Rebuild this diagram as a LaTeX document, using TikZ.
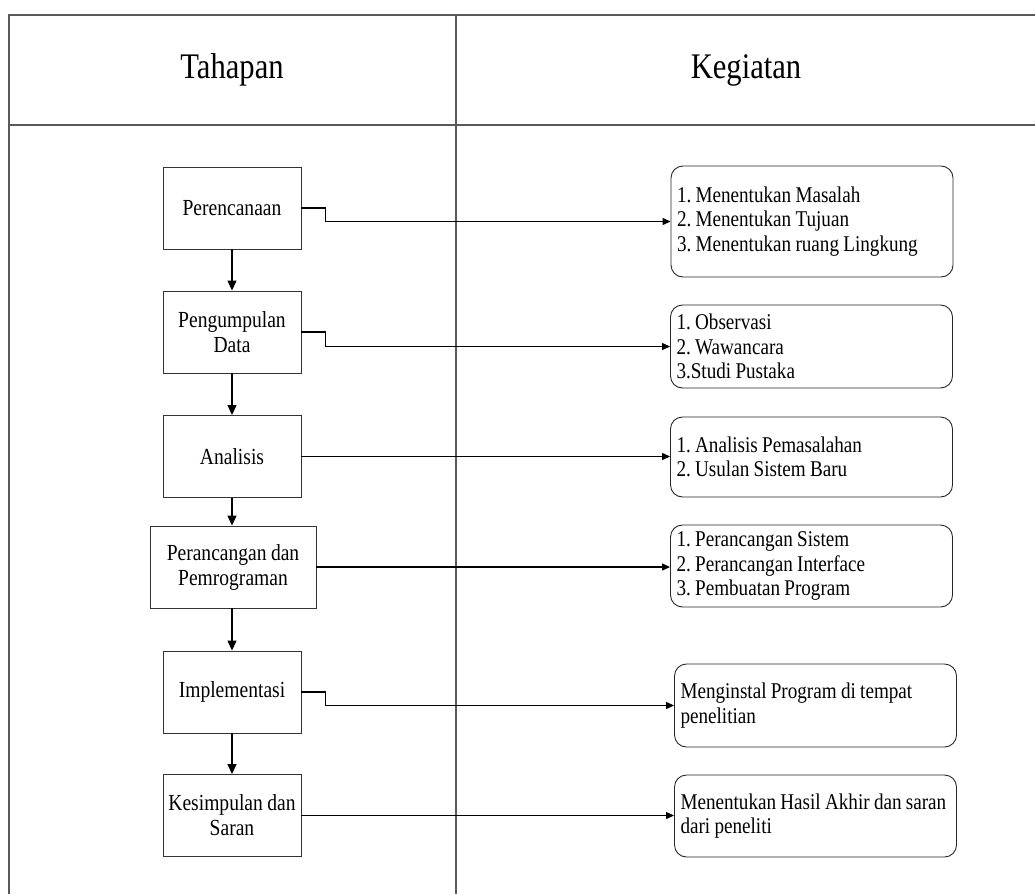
\documentclass[tikz,border=0pt]{standalone}
\usepackage{fontspec}
\setmainfont{Liberation Serif}[FakeStretch=0.85, WordSpace=0.9]
\usetikzlibrary{arrows.meta}
\tikzset{
  frameline/.style={draw=black!65, line width=1.4pt},
  stage/.style={draw=black!80, line width=0.9pt, fill=white, minimum height=82pt, minimum width=138pt, align=center, inner sep=3pt, font=\fontsize{23}{25}\selectfont\frenchspacing},
  activity/.style={draw=black!85, line width=0.9pt, rounded corners=12pt, fill=white, minimum height=83pt, text width=270pt, inner sep=6pt, align=left, font=\fontsize{22.5}{24.5}\selectfont\frenchspacing, execute at begin node={\spaceskip=0pt\xspaceskip=0pt}},
  title/.style={font=\fontsize{36}{38}\selectfont},
  flow/.style={draw=black, line width=1.2pt, -{Triangle[length=10pt,width=9pt]}},
  link/.style={draw=black, line width=1.2pt, -{Triangle[length=8pt,width=7pt]}},
}
\begin{document}
\begin{tikzpicture}[x=1pt,y=-1pt]
\useasboundingbox (0,0) rectangle (1035,894);
% frame
\coordinate (tl) at (9,15);
\coordinate (tr) at (1035,15);
\coordinate (bl) at (9,894);
\coordinate (hl) at (9,125);
\coordinate (hr) at (1035,125);
\coordinate (mt) at (456,15);
\coordinate (mb) at (456,894);
\draw[frameline] (bl) -- (tl) -- (tr);
\draw[frameline] (hl) -- (hr);
\draw[frameline] (mt) -- (mb);
\node[title] (t1) at (232,70) {Tahapan};
\node[title] (t2) at (746,70) {Kegiatan};
% stages
\node[stage] (s1) at (232,208) {Perencanaan};
\node[stage] (s2) at (232,332) {Pengumpulan\\Data};
\node[stage] (s3) at (232,456.5) {Analisis};
\node[stage, minimum width=166pt] (s4) at (233,567) {Perancangan dan\\Pemrograman};
\node[stage] (s5) at (232,692) {Implementasi};
\node[stage] (s6) at (232,815.5) {Kesimpulan dan\\Saran};
% activities
\node[activity, minimum height=111pt] (a1) at (812,221.5) {1. Menentukan Masalah\\2. Menentukan Tujuan\\3. Menentukan ruang Lingkung};
\node[activity] (a2) at (811.5,346.5) {1. Observasi\\2. Wawancara\\3.Studi Pustaka};
\node[activity, minimum height=80pt] (a3) at (811.5,457) {1. Analisis Pemasalahan\\2. Usulan Sistem Baru};
\node[activity, minimum height=82pt] (a4) at (811.5,566) {1. Perancangan Sistem\\2. Perancangan Interface\\3. Pembuatan Program};
\node[activity] (a5) at (815.5,705.5) {Menginstal Program di tempat\\penelitian};
\node[activity, minimum height=82pt] (a6) at (815.5,816) {Menentukan Hasil Akhir dan saran\\dari peneliti};
% vertical flow
\draw[flow] (s1) -- (s2);
\draw[flow] (s2) -- (s3);
\draw[flow] (s3.south) -- (s3.south |- s4.north);
\draw[flow] (s4.south -| s5.north) -- (s5.north);
\draw[flow] (s5) -- (s6);
% links
\draw[link] (s1.east) -- ++(24,0) |- (a1.west);
\draw[link] (s2.east) -- ++(24,0) |- (a2.west);
\draw[link] (s3.east) -- (s3.east -| a3.west);
\draw[link] (s4.east) -- (s4.east -| a4.west);
\draw[link] (s5.east) -- ++(24,0) |- (a5.west);
\draw[link] (s6.east) -- (s6.east -| a6.west);
\end{tikzpicture}
\end{document}
